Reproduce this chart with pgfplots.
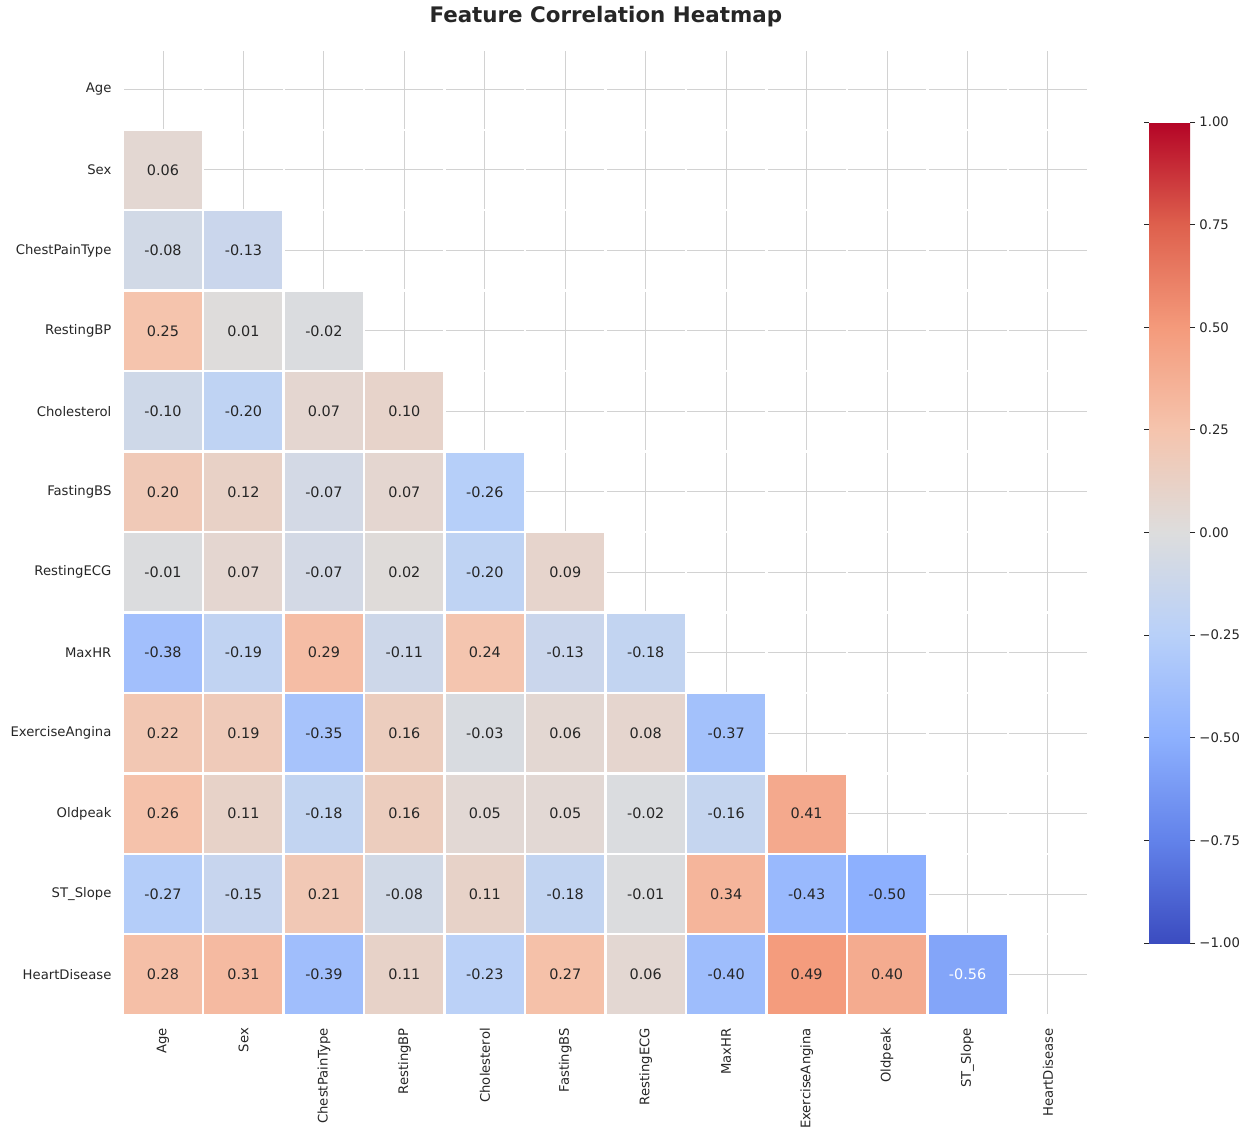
\documentclass[border=0pt]{standalone}
\usepackage{pgfplots}
\usepackage{pgfplotstable}
\pgfplotsset{compat=1.18}
\usepackage{fontspec}
\setmainfont{DejaVu Sans}
\definecolor{txt}{RGB}{38,38,38}
\definecolor{gridc}{RGB}{210,210,210}
\newcommand\fs{\fontsize{6.6}{8}\selectfont}
\newcommand\fa{\fontsize{7.2}{8.6}\selectfont}
\pgfplotsset{colormap={coolwarm}{rgb=(0.2314,0.2980,0.7529) rgb=(0.3843,0.5098,0.9176) rgb=(0.5529,0.6902,0.9961) rgb=(0.7216,0.8157,0.9765) rgb=(0.8667,0.8667,0.8667) rgb=(0.9608,0.7686,0.6784) rgb=(0.9569,0.6039,0.4824) rgb=(0.8706,0.3765,0.3020) rgb=(0.7059,0.0157,0.1490)}}

% x = column (0=Age ... 11=HeartDisease), y = 11 - row
\pgfplotstableread{
x y c
0 10 0.06
0 9 -0.08
1 9 -0.13
0 8 0.25
1 8 0.01
2 8 -0.02
0 7 -0.10
1 7 -0.20
2 7 0.07
3 7 0.10
0 6 0.20
1 6 0.12
2 6 -0.07
3 6 0.07
4 6 -0.26
0 5 -0.01
1 5 0.07
2 5 -0.07
3 5 0.02
4 5 -0.20
5 5 0.09
0 4 -0.38
1 4 -0.19
2 4 0.29
3 4 -0.11
4 4 0.24
5 4 -0.13
6 4 -0.18
0 3 0.22
1 3 0.19
2 3 -0.35
3 3 0.16
4 3 -0.03
5 3 0.06
6 3 0.08
7 3 -0.37
0 2 0.26
1 2 0.11
2 2 -0.18
3 2 0.16
4 2 0.05
5 2 0.05
6 2 -0.02
7 2 -0.16
8 2 0.41
0 1 -0.27
1 1 -0.15
2 1 0.21
3 1 -0.08
4 1 0.11
5 1 -0.18
6 1 -0.01
7 1 0.34
8 1 -0.43
9 1 -0.50
0 0 0.28
1 0 0.31
2 0 -0.39
3 0 0.11
4 0 -0.23
5 0 0.27
6 0 0.06
7 0 -0.40
8 0 0.49
9 0 0.40
}\cells

\pgfplotstableread{
x y c
10 0 -0.56
}\strong

\begin{document}
\begin{tikzpicture}
\useasboundingbox (0,0) rectangle (623.5pt,-565pt);
\begin{axis}[
  at={(61.4pt,-507.35pt)}, anchor=south west,
  scale only axis, width=482.7pt, height=482.7pt,
  xmin=-0.5, xmax=11.5, ymin=-0.5, ymax=11.5,
  axis line style={draw=none},
  xtick={0,...,11}, ytick={0,...,11},
  xticklabels={Age,Sex,ChestPainType,RestingBP,Cholesterol,FastingBS,RestingECG,MaxHR,ExerciseAngina,Oldpeak,ST\_Slope,HeartDisease},
  yticklabels={HeartDisease,ST\_Slope,Oldpeak,ExerciseAngina,MaxHR,RestingECG,FastingBS,Cholesterol,RestingBP,ChestPainType,Sex,Age},
  major tick length=0pt,
  grid=major, major grid style={gridc, line width=0.5pt},
  xticklabel style={rotate=90, anchor=east, inner xsep=6.5pt, inner ysep=0pt, font=\fs, text=txt},
  yticklabel style={anchor=east, inner xsep=5.5pt, font=\fs, text=txt},
  colormap name=coolwarm, point meta min=-1, point meta max=1,
  colorbar,
  colorbar/width=20.5pt,
  colorbar style={
    at={(parent axis.south east)}, anchor=south west, xshift=21.9pt, yshift=35.85pt,
    scale only axis, width=20.5pt, height=410.5pt,
    ytick={-1,-0.75,-0.5,-0.25,0,0.25,0.5,0.75,1},
    yticklabels={−1.00,−0.75,−0.50,−0.25,0.00,0.25,0.50,0.75,1.00},
    axis line style={draw=none},
    tick align=outside, major tick length=2.5pt,
    ytick style={txt, line width=0.4pt},
    yticklabel style={font=\fs, text=txt, inner xsep=2pt},
  },
]
\pgfplotsinvokeforeach{-0.5,0.5,1.5,2.5,3.5,4.5,5.5,6.5,7.5,8.5,9.5,10.5,11.5}{
  \draw[white, line width=1.2pt] (axis cs:#1,-0.5) -- (axis cs:#1,11.5);
  \draw[white, line width=1.2pt] (axis cs:-0.5,#1) -- (axis cs:11.5,#1);
}
% coloured cells
\addplot[scatter, only marks, mark=square*, mark size=20.11pt,
  scatter/use mapped color={draw=white,fill=mapped color},
  mark options={line width=1.2pt},
  point meta=explicit]
  table[x=x, y=y, meta=c]{\cells};
\addplot[scatter, only marks, mark=square*, mark size=20.11pt,
  scatter/use mapped color={draw=white,fill=mapped color},
  mark options={line width=1.2pt},
  point meta=explicit]
  table[x=x, y=y, meta=c]{\strong};
% annotations
\addplot[only marks, mark=none, point meta=explicit,
  nodes near coords={\pgfmathprintnumber[fixed,fixed zerofill,precision=2,assume math mode=true]{\pgfplotspointmeta}},
  every node near coord/.append style={anchor=center, font=\fa, text=txt}]
  table[x=x, y=y, meta=c]{\cells};
\addplot[only marks, mark=none, point meta=explicit,
  nodes near coords={\pgfmathprintnumber[fixed,fixed zerofill,precision=2,assume math mode=true]{\pgfplotspointmeta}},
  every node near coord/.append style={anchor=center, font=\fa, text=white}]
  table[x=x, y=y, meta=c]{\strong};
\end{axis}
\node[anchor=base, font=\fontsize{10.7}{12.8}\selectfont\bfseries, text=txt] at (302.9pt,-11.4pt) {Feature Correlation Heatmap};
\end{tikzpicture}
\end{document}
